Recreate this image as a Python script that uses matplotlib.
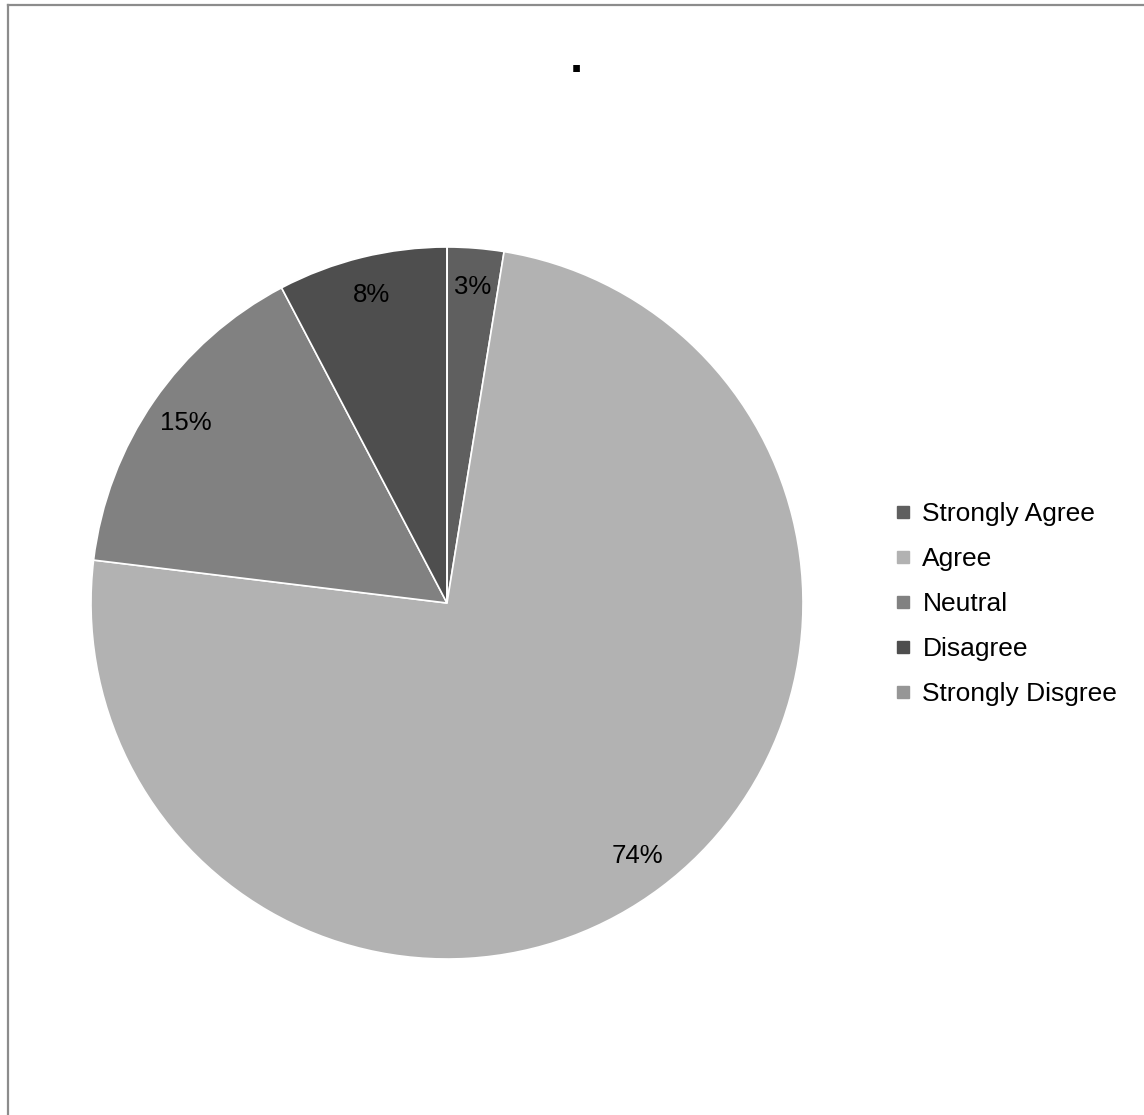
# Pie chart of survey responses, grey palette, legend on the right.
import matplotlib
matplotlib.use("Agg")
import matplotlib.pyplot as plt
from matplotlib.lines import Line2D

plt.rcParams["font.family"] = ["Liberation Sans", "DejaVu Sans"]

categories = ["Strongly Agree", "Agree", "Neutral", "Disagree", "Strongly Disgree"]
counts = [1, 29, 6, 3, 0]
colors = ["#5f5f5f", "#b2b2b2", "#818181", "#4e4e4e", "#969696"]

W, H = 1144, 1115
fig = plt.figure(figsize=(W / 100, H / 100), dpi=100)
fig.patch.set_facecolor("white")

# outer frame: only top and left edges are visible
fig.add_artist(Line2D([7.5 / W, 1], [1 - 4.5 / H, 1 - 4.5 / H], color="#8c8c8c", lw=1.6,
                      transform=fig.transFigure))
fig.add_artist(Line2D([7.5 / W, 7.5 / W], [0, 1 - 4.5 / H], color="#8c8c8c", lw=1.6,
                      transform=fig.transFigure))

cx, cy, r = 447, 603, 356
ax = fig.add_axes([(cx - r) / W, (H - cy - r) / H, 2 * r / W, 2 * r / H])


def pct(p):
    return f"{p:.0f}%" if p > 0 else ""


wedges, texts, autotexts = ax.pie(
    counts, colors=colors, startangle=90, counterclock=False, radius=1,
    autopct=pct, pctdistance=0.89,
    wedgeprops=dict(edgecolor="white", linewidth=1.2),
    textprops=dict(fontsize=18.5, color="black"))
ax.set_xlim(-1, 1)
ax.set_ylim(-1, 1)
ax.set_aspect("equal")
ax.axis("off")

fig.text(576 / W, 1 - 72 / H, ".", fontsize=34, fontweight="bold",
         ha="center", va="baseline")

handles = [Line2D([0], [0], marker="s", ls="none", color=c, markersize=8)
           for c in colors]
fig.legend(handles, categories, loc="center left",
           bbox_to_anchor=(896 / W, 1 - 604 / H), frameon=False,
           fontsize=19, handlelength=0.5, handletextpad=0.5,
           labelspacing=0.8, borderpad=0, borderaxespad=0)

fig.savefig("out.png", dpi=100, facecolor="white")
